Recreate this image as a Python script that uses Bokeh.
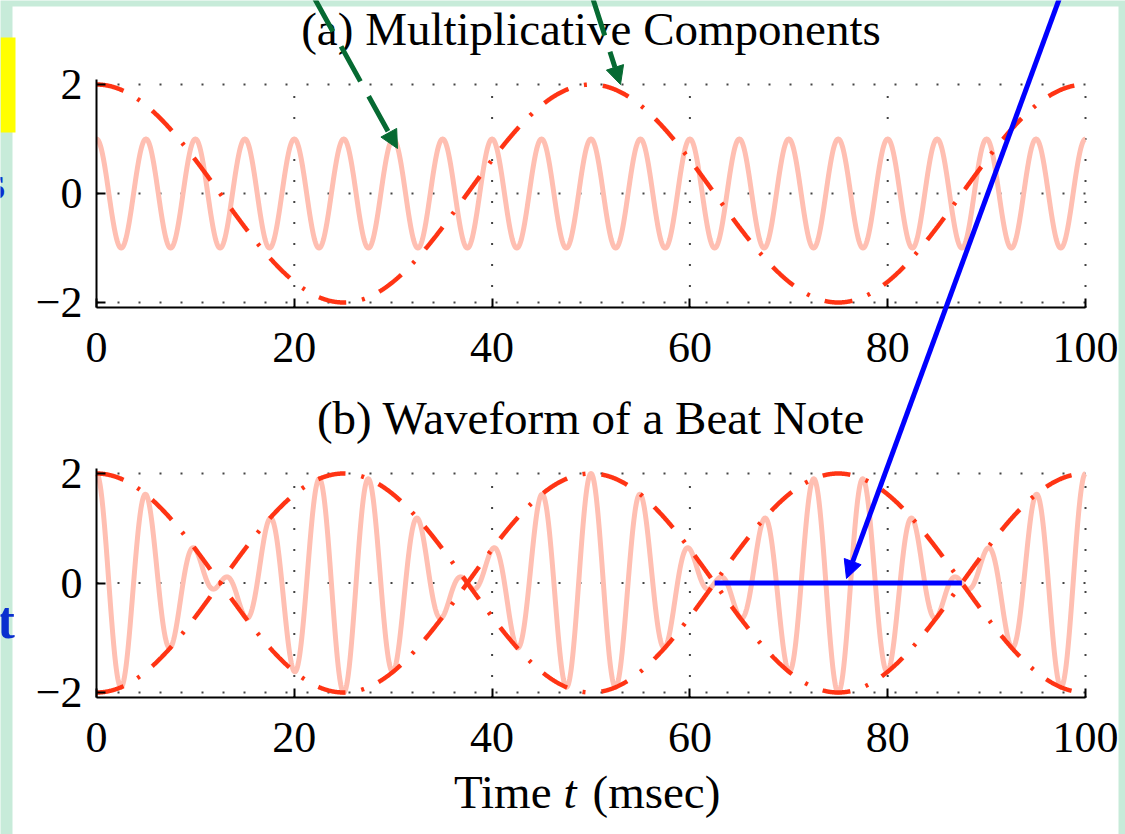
import numpy as np
from bokeh.plotting import figure
from bokeh.models import (Range1d, LinearAxis, FixedTicker, Label, Arrow,
                          NormalHead, BoxAnnotation)
from bokeh.embed import file_html
from bokeh.resources import INLINE

# ---------------- data ----------------
time_ms = np.linspace(0.0, 100.0, 2001)          # sample grid, msec
carrier_amp = 1.0                                 # (a) fast sinusoid amplitude
carrier_freq_hz = 200.0                           # 20 cycles in 100 ms
envelope_amp = 2.0                                # dash-dot envelope amplitude
envelope_freq_hz = 20.0                           # 2 cycles in 100 ms
beat_marks_ms = [62.5, 87.5]                      # blue bracket between zero crossings
x_ticks = [0, 20, 40, 60, 80, 100]
y_ticks = [-2, 0, 2]
y_tick_labels = {-2: "\u22122", 0: "0", 2: "2"}
x_lim = [0, 100]
y_lim = [-2.1, 2.1]
title_a = "(a) Multiplicative Components"
title_b = "(b) Waveform of a Beat Note"

carrier = carrier_amp * np.cos(2 * np.pi * carrier_freq_hz * time_ms / 1000.0)
envelope = envelope_amp * np.cos(2 * np.pi * envelope_freq_hz * time_ms / 1000.0)
beat = envelope * carrier

# ---------------- styling / layout ----------------
MINT = "#c7ebd9"
PINK = "#ffbfb2"
RED = "#ff3414"
GRIDC = "#444444"
BLUE = "#0000ff"
GREEN = "#066a32"
SERIF = "Liberation Serif"

W, H = 1125, 834
FX0, FX1, FY0, FY1 = 0, W, 0, H           # frame = whole canvas
T0_PX, T100_PX = 96, 1085
sx = (T100_PX - T0_PX) / 100.0
x_start = 0 - (T0_PX - FX0) / sx
x_end = 100 + (FX1 - T100_PX) / sx


def yrange(y2_px, ym2_px):
    s = (ym2_px - y2_px) / 4.0
    zero = (y2_px + ym2_px) / 2.0
    return Range1d(-(FY1 - zero) / s, (zero - FY0) / s)


p = figure(width=W, height=H, x_range=Range1d(x_start, x_end),
           y_range=yrange(473, 692), x_axis_type=None, y_axis_type=None,
           output_backend="svg", toolbar_location=None,
           min_border_left=0, min_border_right=0,
           min_border_top=0, min_border_bottom=0)
p.extra_y_ranges = {"a": yrange(84, 302), "py": Range1d(FY1, FY0)}
p.extra_x_ranges = {"px": Range1d(FX0, FX1)}
p.border_fill_color = MINT
p.background_fill_color = MINT
p.outline_line_color = None

# white slide panel
p.add_layout(BoxAnnotation(left=12, right=1118, top=6, bottom=H + 5,
                           x_range_name="px", y_range_name="py",
                           fill_color="white", fill_alpha=1.0,
                           line_color=None, level="underlay"))


def add_panel(rname):
    kw = {} if rname == "default" else {"y_range_name": rname}
    # dotted grid
    xg = x_ticks[1:]
    p.segment(x0=xg, y0=[y_lim[0]] * len(xg), x1=xg, y1=[y_lim[1]] * len(xg),
              line_color=GRIDC, line_width=2, line_dash="2 19", **kw)
    p.segment(x0=[x_lim[0]] * len(y_ticks), y0=y_ticks,
              x1=[x_lim[1]] * len(y_ticks), y1=y_ticks,
              line_color=GRIDC, line_width=2, line_dash="2 19", **kw)
    common = dict(axis_line_width=2, major_tick_line_width=2,
                  major_tick_in=9, major_tick_out=0,
                  minor_tick_in=0, minor_tick_out=0,
                  major_label_text_font=SERIF,
                  major_label_text_font_size="44px",
                  major_label_text_color="black")
    xa = LinearAxis(fixed_location=y_lim[0], bounds=tuple(x_lim),
                    ticker=FixedTicker(ticks=x_ticks),
                    major_label_standoff=25, **common, **kw)
    p.add_layout(xa, "below")
    ya = LinearAxis(fixed_location=x_lim[0], bounds=tuple(y_lim),
                    ticker=FixedTicker(ticks=y_ticks),
                    major_label_overrides=y_tick_labels,
                    major_label_standoff=14, **common, **kw)
    p.add_layout(ya, "left")


add_panel("a")
add_panel("default")

DASHDOT = "28 16 3 16"
# (a) multiplicative components
p.line(time_ms, carrier, y_range_name="a", line_color=PINK, line_width=5,
       line_join="round")
p.line(time_ms, envelope, y_range_name="a", line_color=RED, line_width=4.5,
       line_dash=DASHDOT)
# (b) beat note
p.line(time_ms, beat, line_color=PINK, line_width=5, line_join="round")
p.line(time_ms, envelope, line_color=RED, line_width=4.5, line_dash=DASHDOT)
p.line(time_ms, -envelope, line_color=RED, line_width=4.5, line_dash=DASHDOT)
p.line(beat_marks_ms, [0, 0], line_color=BLUE, line_width=5)

# titles and axis label
TXT = dict(x_range_name="px", y_range_name="py", text_font=SERIF,
           text_baseline="alphabetic", text_color="black",
           text_font_size="47px")
for txt, base in ((title_a, 28), (title_b, 417)):
    p.add_layout(Label(x=(T0_PX + T100_PX) / 2, y=base, text=txt,
                       text_align="center", **TXT))
p.add_layout(Label(x=551, y=791, text="Time", text_align="right", **TXT))
p.add_layout(Label(x=563, y=791, text="t", text_align="left",
                   text_font_style="italic", **TXT))
p.add_layout(Label(x=592, y=791, text="(msec)", text_align="left", **TXT))

# slide decorations
p.add_layout(BoxAnnotation(left=0, right=15, top=37, bottom=132,
                           x_range_name="px", y_range_name="py",
                           fill_color="#ffff00", fill_alpha=1.0,
                           line_color=None, level="overlay"))
DECO = dict(x_range_name="px", y_range_name="py", text_font=SERIF,
            text_font_style="bold", text_color="#0a2fcf",
            text_baseline="alphabetic")
p.add_layout(Label(x=-14, y=182, text="s", text_font_size="48px", **DECO))
p.add_layout(Label(x=-3, y=620, text="t", text_font_size="52px", **DECO))

for (xs, ys, xe, ye) in ((313, -4, 397, 148), (592, -3, 620, 84)):
    p.add_layout(Arrow(x_start=xs, y_start=ys, x_end=xe, y_end=ye,
                       x_range_name="px", y_range_name="py",
                       line_color=GREEN, line_width=5, line_dash="40 17",
                       end=NormalHead(size=18, fill_color=GREEN,
                                      line_color=GREEN, line_width=1)))
p.add_layout(Arrow(x_start=1060, y_start=-5, x_end=846, y_end=578,
                   x_range_name="px", y_range_name="py",
                   line_color=BLUE, line_width=5,
                   end=NormalHead(size=18, fill_color=BLUE, line_color=BLUE,
                                  line_width=1)))

open("out.html", "w").write(file_html(p, INLINE))
